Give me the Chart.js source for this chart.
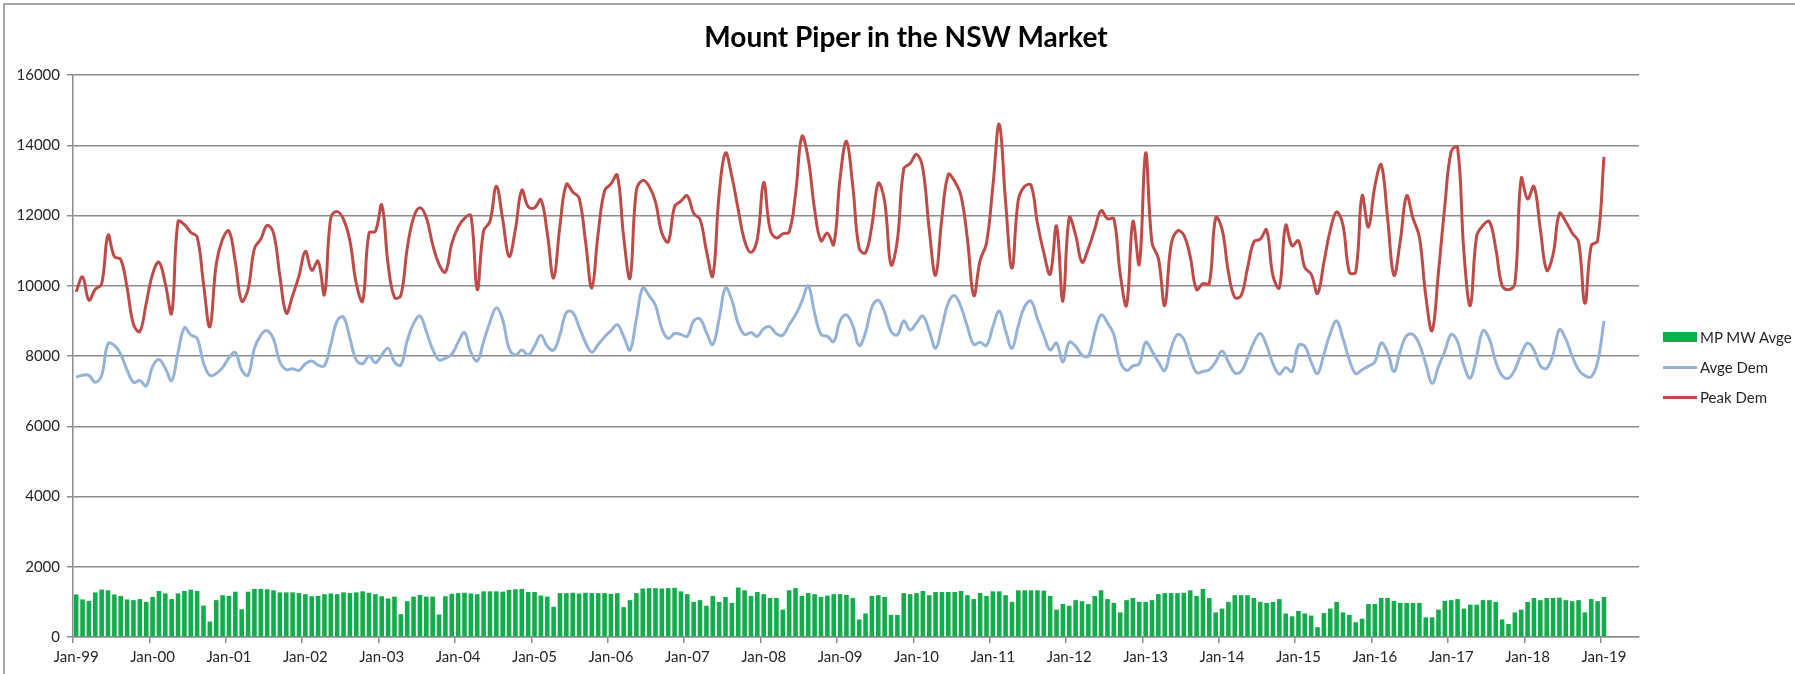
<!DOCTYPE html>
<html>
<head>
<meta charset="utf-8">
<title>Mount Piper in the NSW Market</title>
<script src="https://cdn.jsdelivr.net/npm/chart.js@4.4.1/dist/chart.umd.min.js"></script>
<style>
    html, body { margin: 0; padding: 0; background: #fff; }
    #marco { position: relative; width: 1795px; height: 674px; overflow: hidden; font-family: 'Lato', sans-serif; }
    #borde { position: absolute; left: 3px; top: 3px; width: 1800px; height: 700px; border-left: 2px solid #a6a6a6; border-top: 2px solid #a6a6a6; }
    #chartPiper { position: absolute; left: 0; top: 0; }
    #titulo { position: absolute; left: 606px; width: 600px; top: 22px; text-align: center; font-size: 28px; line-height: 28px; font-weight: 700; color: #000; }
    #leyenda { position: absolute; left: 1663px; top: 322px; }
    .item { display: flex; align-items: center; height: 30px; font-size: 15px; color: #262626; white-space: nowrap; }
    .simbolo { width: 34px; margin-right: 3px; }
</style>
</head>
<body>
<div id="marco">
    <div id="borde"></div>
    <canvas id="chartPiper" width="1795" height="674"></canvas>
    <div id="titulo">Mount Piper in the NSW Market</div>
    <div id="leyenda">
        <div class="item"><span class="simbolo" style="height:10px;background:#12ad4b"></span>MP MW Avge</div>
        <div class="item"><span class="simbolo" style="height:3px;background:#95b3d7"></span>Avge Dem</div>
        <div class="item"><span class="simbolo" style="height:3px;background:#be4b48"></span>Peak Dem</div>
    </div>
</div>

<script>
// ---- Datos (mensuales, Jan-99 .. Jan-19) ----
const MESES = ['Jan', 'Feb', 'Mar', 'Apr', 'May', 'Jun', 'Jul', 'Aug', 'Sep', 'Oct', 'Nov', 'Dec'];
const ANIOS = ['99', '00', '01', '02', '03', '04', '05', '06', '07', '08', '09',
               '10', '11', '12', '13', '14', '15', '16', '17', '18', '19'];
const TOTAL_CATEGORIAS = 246; // el eje sigue hasta Jun-19 sin datos

const peakDem = [
    9830, 10250, 9590, 9900, 10050, 11440, 10830, 10750, 9940, 8900, 8700, 9500,
    10330, 10670, 10060, 9220, 11830, 11740, 11520, 11390, 10060, 8830, 10610, 11330,
    11560, 10670, 9560, 9900, 11060, 11330, 11720, 11500, 10280, 9220, 9720, 10280,
    10980, 10440, 10700, 9750, 11940, 12110, 11890, 11280, 10060, 9560, 11500, 11550,
    12300, 10610, 9670, 9720, 11060, 11940, 12220, 11940, 11170, 10610, 10390, 11200,
    11670, 11920, 12000, 9890, 11560, 11830, 12830, 11890, 10830, 11610, 12720, 12250,
    12220, 12450, 11500, 10220, 11720, 12890, 12670, 12500, 11280, 9940, 11500, 12700,
    12900, 13150, 11390, 10220, 12720, 13000, 12830, 12390, 11500, 11250, 12250, 12410,
    12560, 12060, 11890, 11000, 10280, 12610, 13780, 13110, 12170, 11280, 10950, 11330,
    12940, 11610, 11360, 11480, 11530, 12610, 14250, 13610, 12170, 11280, 11500, 11170,
    13060, 14110, 12830, 11060, 10940, 11720, 12920, 12400, 10600, 11300, 13330, 13480,
    13740, 13330, 11610, 10300, 11940, 13170, 12970, 12560, 11330, 9720, 10720, 11220,
    12830, 14600, 12390, 10500, 12440, 12830, 12860, 11780, 10940, 10330, 11700, 9560,
    11940, 11440, 10670, 11060, 11610, 12140, 11910, 11910, 10340, 9440, 11830, 10610,
    13780, 11220, 10780, 9440, 11170, 11560, 11440, 10830, 9890, 10060, 10060, 11940,
    11610, 10390, 9670, 9720, 10500, 11250, 11330, 11590, 10280, 9940, 11720, 11140,
    11280, 10520, 10330, 9780, 10660, 11580, 12100, 11720, 10390, 10390, 12560, 11670,
    12830, 13440, 11940, 10300, 11280, 12560, 11920, 11390, 9720, 8720, 10390, 12280,
    13830, 13940, 10940, 9440, 11410, 11720, 11830, 11060, 10000, 9890, 10060, 13060,
    12470, 12830, 11610, 10440, 10890, 12060, 11830, 11500, 11250, 9500, 11140, 11280,
    13670
];

const avgeDem = [
    7400, 7450, 7450, 7250, 7450, 8350, 8300, 8050, 7600, 7250, 7300, 7150,
    7700, 7900, 7650, 7300, 8100, 8800, 8600, 8500, 7800, 7450, 7500, 7670,
    7950, 8100, 7600, 7450, 8220, 8590, 8720, 8480, 7830, 7610, 7640, 7590,
    7780, 7860, 7740, 7720, 8330, 9000, 9110, 8500, 7890, 7780, 8000, 7810,
    8030, 8220, 7830, 7740, 8440, 8920, 9140, 8700, 8190, 7890, 7940, 8050,
    8390, 8670, 8110, 7860, 8410, 8970, 9370, 9030, 8220, 8020, 8170, 8030,
    8280, 8590, 8280, 8170, 8610, 9240, 9240, 8830, 8390, 8110, 8330, 8540,
    8720, 8890, 8560, 8170, 9060, 9940, 9720, 9440, 8780, 8500, 8640, 8610,
    8560, 9000, 9060, 8670, 8330, 9060, 9940, 9590, 8920, 8610, 8670, 8560,
    8780, 8830, 8630, 8590, 8890, 9170, 9560, 10000, 9220, 8610, 8560, 8410,
    9000, 9170, 8860, 8300, 8670, 9390, 9590, 9250, 8700, 8600, 9000, 8740,
    8940, 9140, 8720, 8220, 8830, 9520, 9720, 9390, 8830, 8330, 8390, 8300,
    8830, 9280, 8720, 8220, 8860, 9410, 9560, 9060, 8590, 8170, 8370, 7830,
    8390, 8280, 8030, 8000, 8670, 9170, 8950, 8610, 7840, 7590, 7720, 7780,
    8390, 8140, 7830, 7590, 8220, 8610, 8480, 7940, 7530, 7560, 7610, 7830,
    8140, 7830, 7520, 7560, 7940, 8390, 8640, 8300, 7780, 7480, 7670, 7560,
    8300, 8280, 7830, 7500, 8050, 8650, 9000, 8500, 7890, 7500, 7610, 7710,
    7830, 8370, 8110, 7560, 8140, 8580, 8610, 8330, 7780, 7220, 7700, 8140,
    8610, 8410, 7720, 7370, 8000, 8720, 8480, 7830, 7440, 7370, 7610, 8060,
    8370, 8170, 7720, 7650, 8050, 8750, 8480, 8000, 7610, 7440, 7410, 7830,
    9000
];

const mpMwAvge = [
    1210, 1070, 1030, 1270, 1350, 1330, 1210, 1170, 1070, 1050, 1080, 1000,
    1140, 1310, 1240, 1080, 1240, 1310, 1350, 1310, 895, 440, 1050, 1190,
    1170, 1290, 790, 1290, 1370, 1370, 1360, 1330, 1270, 1270, 1270, 1250,
    1220, 1160, 1170, 1220, 1240, 1220, 1270, 1250, 1270, 1300, 1260, 1220,
    1160, 1100, 1150, 650, 1020, 1150, 1200, 1150, 1150, 640, 1160, 1230,
    1250, 1260, 1240, 1220, 1300, 1300, 1300, 1290, 1340, 1360, 1370, 1280,
    1280, 1180, 1150, 860, 1250, 1250, 1260, 1240, 1260, 1250, 1250, 1250,
    1230, 1250, 850, 1050, 1250, 1380, 1390, 1390, 1380, 1390, 1400, 1300,
    1220, 1000, 1050, 890, 1170, 1000, 1140, 970, 1410, 1330, 1170, 1280,
    1220, 1110, 1110, 780, 1330, 1390, 1170, 1250, 1220, 1140, 1180, 1220,
    1220, 1200, 1110, 500, 670, 1170, 1190, 1140, 630, 630, 1250, 1220,
    1250, 1310, 1190, 1280, 1280, 1280, 1280, 1310, 1190, 1080, 1250, 1170,
    1300, 1300, 1190, 1000, 1330, 1330, 1330, 1330, 1320, 1170, 780, 940,
    890, 1050, 1020, 940, 1170, 1330, 1080, 970, 700, 1050, 1110, 1000,
    1000, 1050, 1220, 1250, 1250, 1250, 1260, 1330, 1170, 1370, 1110, 700,
    810, 1000, 1190, 1190, 1190, 1110, 1000, 970, 1000, 1080, 670, 590,
    740, 670, 610, 280, 680, 810, 1000, 700, 630, 420, 520, 940,
    940, 1110, 1110, 1030, 970, 970, 970, 970, 560, 560, 780, 1030,
    1050, 1080, 810, 920, 920, 1050, 1050, 1000, 500, 370, 700, 780,
    1000, 1110, 1050, 1110, 1110, 1120, 1050, 1020, 1050, 700, 1080, 1020,
    1140
];

const Y_MAX = 16000;
const Y_PASO = 2000;

const GRIS = '#8c8c8c';
const TEXTO = '#262626';

let chartPiper = null;

document.addEventListener('DOMContentLoaded', () => {
    const dibujar = () => crearGrafico();
    if (document.fonts && document.fonts.load) {
        Promise.all([
            document.fonts.load('15px Lato'),
            document.fonts.load('bold 28px Lato')
        ]).then(dibujar, dibujar);
    } else {
        dibujar();
    }
});

function construirEtiquetas() {
    const etiquetas = [];
    for (let i = 0; i < TOTAL_CATEGORIAS; i++) {
        const anio = ANIOS[Math.floor(i / 12)];
        etiquetas.push(MESES[i % 12] + '-' + anio);
    }
    return etiquetas;
}

function crearGrafico() {
    const etiquetas = construirEtiquetas();
    const ctx = document.getElementById('chartPiper').getContext('2d');
    if (chartPiper) chartPiper.destroy();

    chartPiper = new Chart(ctx, {
        type: 'bar',
        data: {
            labels: etiquetas,
            datasets: [
                {
                    type: 'line',
                    label: 'Peak Dem',
                    data: peakDem,
                    borderColor: '#be4b48',
                    borderWidth: 3,
                    pointRadius: 0,
                    tension: 0.4,
                    order: 1
                },
                {
                    type: 'line',
                    label: 'Avge Dem',
                    data: avgeDem,
                    borderColor: '#95b3d7',
                    borderWidth: 3,
                    pointRadius: 0,
                    tension: 0.4,
                    order: 2
                },
                {
                    type: 'bar',
                    label: 'MP MW Avge',
                    data: mpMwAvge,
                    backgroundColor: '#12ad4b',
                    barPercentage: 0.72,
                    categoryPercentage: 1.0,
                    order: 3
                }
            ]
        },
        options: {
            responsive: false,
            animation: false,
            layout: { padding: { top: 75, left: 4, right: 156, bottom: 0 } },
            plugins: {
                legend: { display: false },
                title: { display: false },
                tooltip: { enabled: false }
            },
            scales: {
                x: {
                    offset: true,
                    grid: {
                        offset: true,
                        drawOnChartArea: false,
                        drawTicks: true,
                        tickLength: 6,
                        lineWidth: 1.5,
                        color: c => (c.index % 12 === 0 ? GRIS : 'rgba(0,0,0,0)')
                    },
                    border: { color: GRIS, width: 1.5 },
                    ticks: {
                        autoSkip: false,
                        maxRotation: 0,
                        minRotation: 0,
                        padding: 5,
                        color: TEXTO,
                        font: { family: 'Lato', size: 15 },
                        callback: (v, i) => (i % 12 === 0 ? etiquetas[i] : '')
                    },
                    afterFit: s => { s.height = 37; }
                },
                y: {
                    min: 0,
                    max: Y_MAX,
                    ticks: {
                        stepSize: Y_PASO,
                        padding: 7,
                        color: TEXTO,
                        font: { family: 'Lato', size: 15 },
                        callback: v => String(v) // sin separador de miles
                    },
                    grid: { color: GRIS, lineWidth: 1.5, tickLength: 6 },
                    border: { color: GRIS, width: 1.5 },
                    afterFit: s => { s.width = 69; }
                }
            }
        }
    });
}
</script>
</body>
</html>
